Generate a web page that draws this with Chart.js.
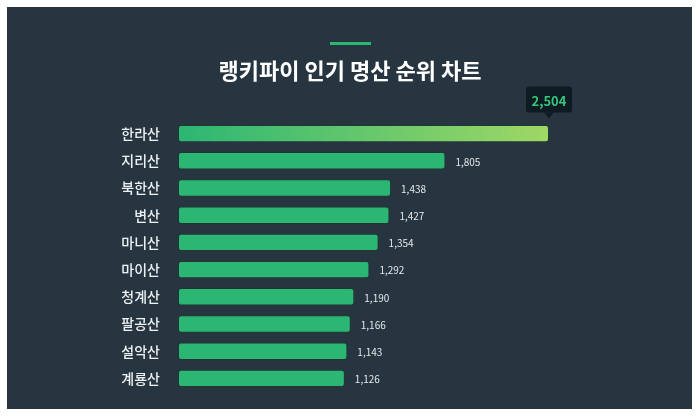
<!DOCTYPE html>
<html>
<head>
<meta charset="utf-8">
<script src="https://cdn.jsdelivr.net/npm/chart.js@4/dist/chart.umd.min.js"></script>
<style>
  html, body { margin: 0; padding: 0; background: #ffffff; }
  #wrap { width: 700px; height: 420px; position: relative; }
</style>
</head>
<body>
<div id="wrap"><canvas id="chart" width="700" height="420"></canvas></div>
<script>
const mountains = ["한라산", "지리산", "북한산", "변산", "마니산", "마이산", "청계산", "팔공산", "설악산", "계룡산"];
const votes = [2504, 1805, 1438, 1427, 1354, 1292, 1190, 1166, 1143, 1126];
const titleText = "랭키파이 인기 명산 순위 차트";

const FONT = "'Noto Sans CJK KR', 'Noto Sans', sans-serif";
const GREEN = "#2bb673";

// dark panel + title with accent line
const panelPlugin = {
  id: "panel",
  beforeDraw(chart) {
    const ctx = chart.ctx;
    ctx.save();
    ctx.fillStyle = "#ffffff";
    ctx.fillRect(0, 0, chart.width, chart.height);
    ctx.fillStyle = "#263540";
    ctx.fillRect(7, 7, 685, 402);
    ctx.fillStyle = GREEN;
    ctx.fillRect(330, 42, 41, 3);
    ctx.fillStyle = "#ffffff";
    ctx.font = "bold 22px " + FONT;
    ctx.textAlign = "center";
    ctx.textBaseline = "middle";
    ctx.fillText(titleText, 350, 71);
    ctx.restore();
  }
};

// value labels + callout on the leader
const valuePlugin = {
  id: "values",
  afterDatasetsDraw(chart) {
    const ctx = chart.ctx;
    const meta = chart.getDatasetMeta(0);
    ctx.save();
    meta.data.forEach((bar, i) => {
      const txt = votes[i].toLocaleString("en-US");
      if (i === 0) {
        const cx = bar.x;
        const w = 46, h = 26, top = bar.y - 47;
        ctx.fillStyle = "#0f1b22";
        ctx.beginPath();
        ctx.roundRect(cx - w / 2, top, w, h, 3);
        ctx.fill();
        ctx.beginPath();
        ctx.moveTo(cx - 5, top + h);
        ctx.lineTo(cx, top + h + 6);
        ctx.lineTo(cx + 5, top + h);
        ctx.fill();
        ctx.fillStyle = "#34c77b";
        ctx.font = "bold 13px " + FONT;
        ctx.textAlign = "center";
        ctx.textBaseline = "middle";
        ctx.fillText(txt, cx, top + h / 2 + 1);
      } else {
        ctx.fillStyle = "#e4e8eb";
        ctx.font = "10px " + FONT;
        ctx.textAlign = "left";
        ctx.textBaseline = "middle";
        ctx.fillText(txt, bar.x + 10, bar.y + 1);
      }
    });
    ctx.restore();
  }
};

new Chart(document.getElementById("chart"), {
  type: "bar",
  data: {
    labels: mountains,
    datasets: [{
      data: votes,
      backgroundColor: (c) => {
        if (c.dataIndex !== 0 || !c.chart.chartArea) return GREEN;
        const x = c.chart.scales.x;
        const g = c.chart.ctx.createLinearGradient(x.getPixelForValue(0), 0, x.getPixelForValue(votes[0]), 0);
        g.addColorStop(0, GREEN);
        g.addColorStop(1, "#9fd865");
        return g;
      },
      borderColor: "rgba(20,60,40,0.35)",
      borderWidth: 1,
      borderSkipped: false,
      borderRadius: 3,
      barPercentage: 0.64,
      categoryPercentage: 1
    }]
  },
  options: {
    indexAxis: "y",
    responsive: false,
    animation: false,
    layout: { padding: { top: 120, bottom: 28, left: 0, right: 77.5 } },
    plugins: { legend: { display: false }, tooltip: { enabled: false } },
    scales: {
      x: { display: false, min: 0, max: 3000 },
      y: {
        grid: { display: false },
        border: { display: false },
        afterFit: (s) => { s.width = 178; },
        ticks: { color: "#eef1f3", font: { family: FONT, size: 14, weight: "500" }, padding: 10 }
      }
    }
  },
  plugins: [panelPlugin, valuePlugin]
});
</script>
</body>
</html>
